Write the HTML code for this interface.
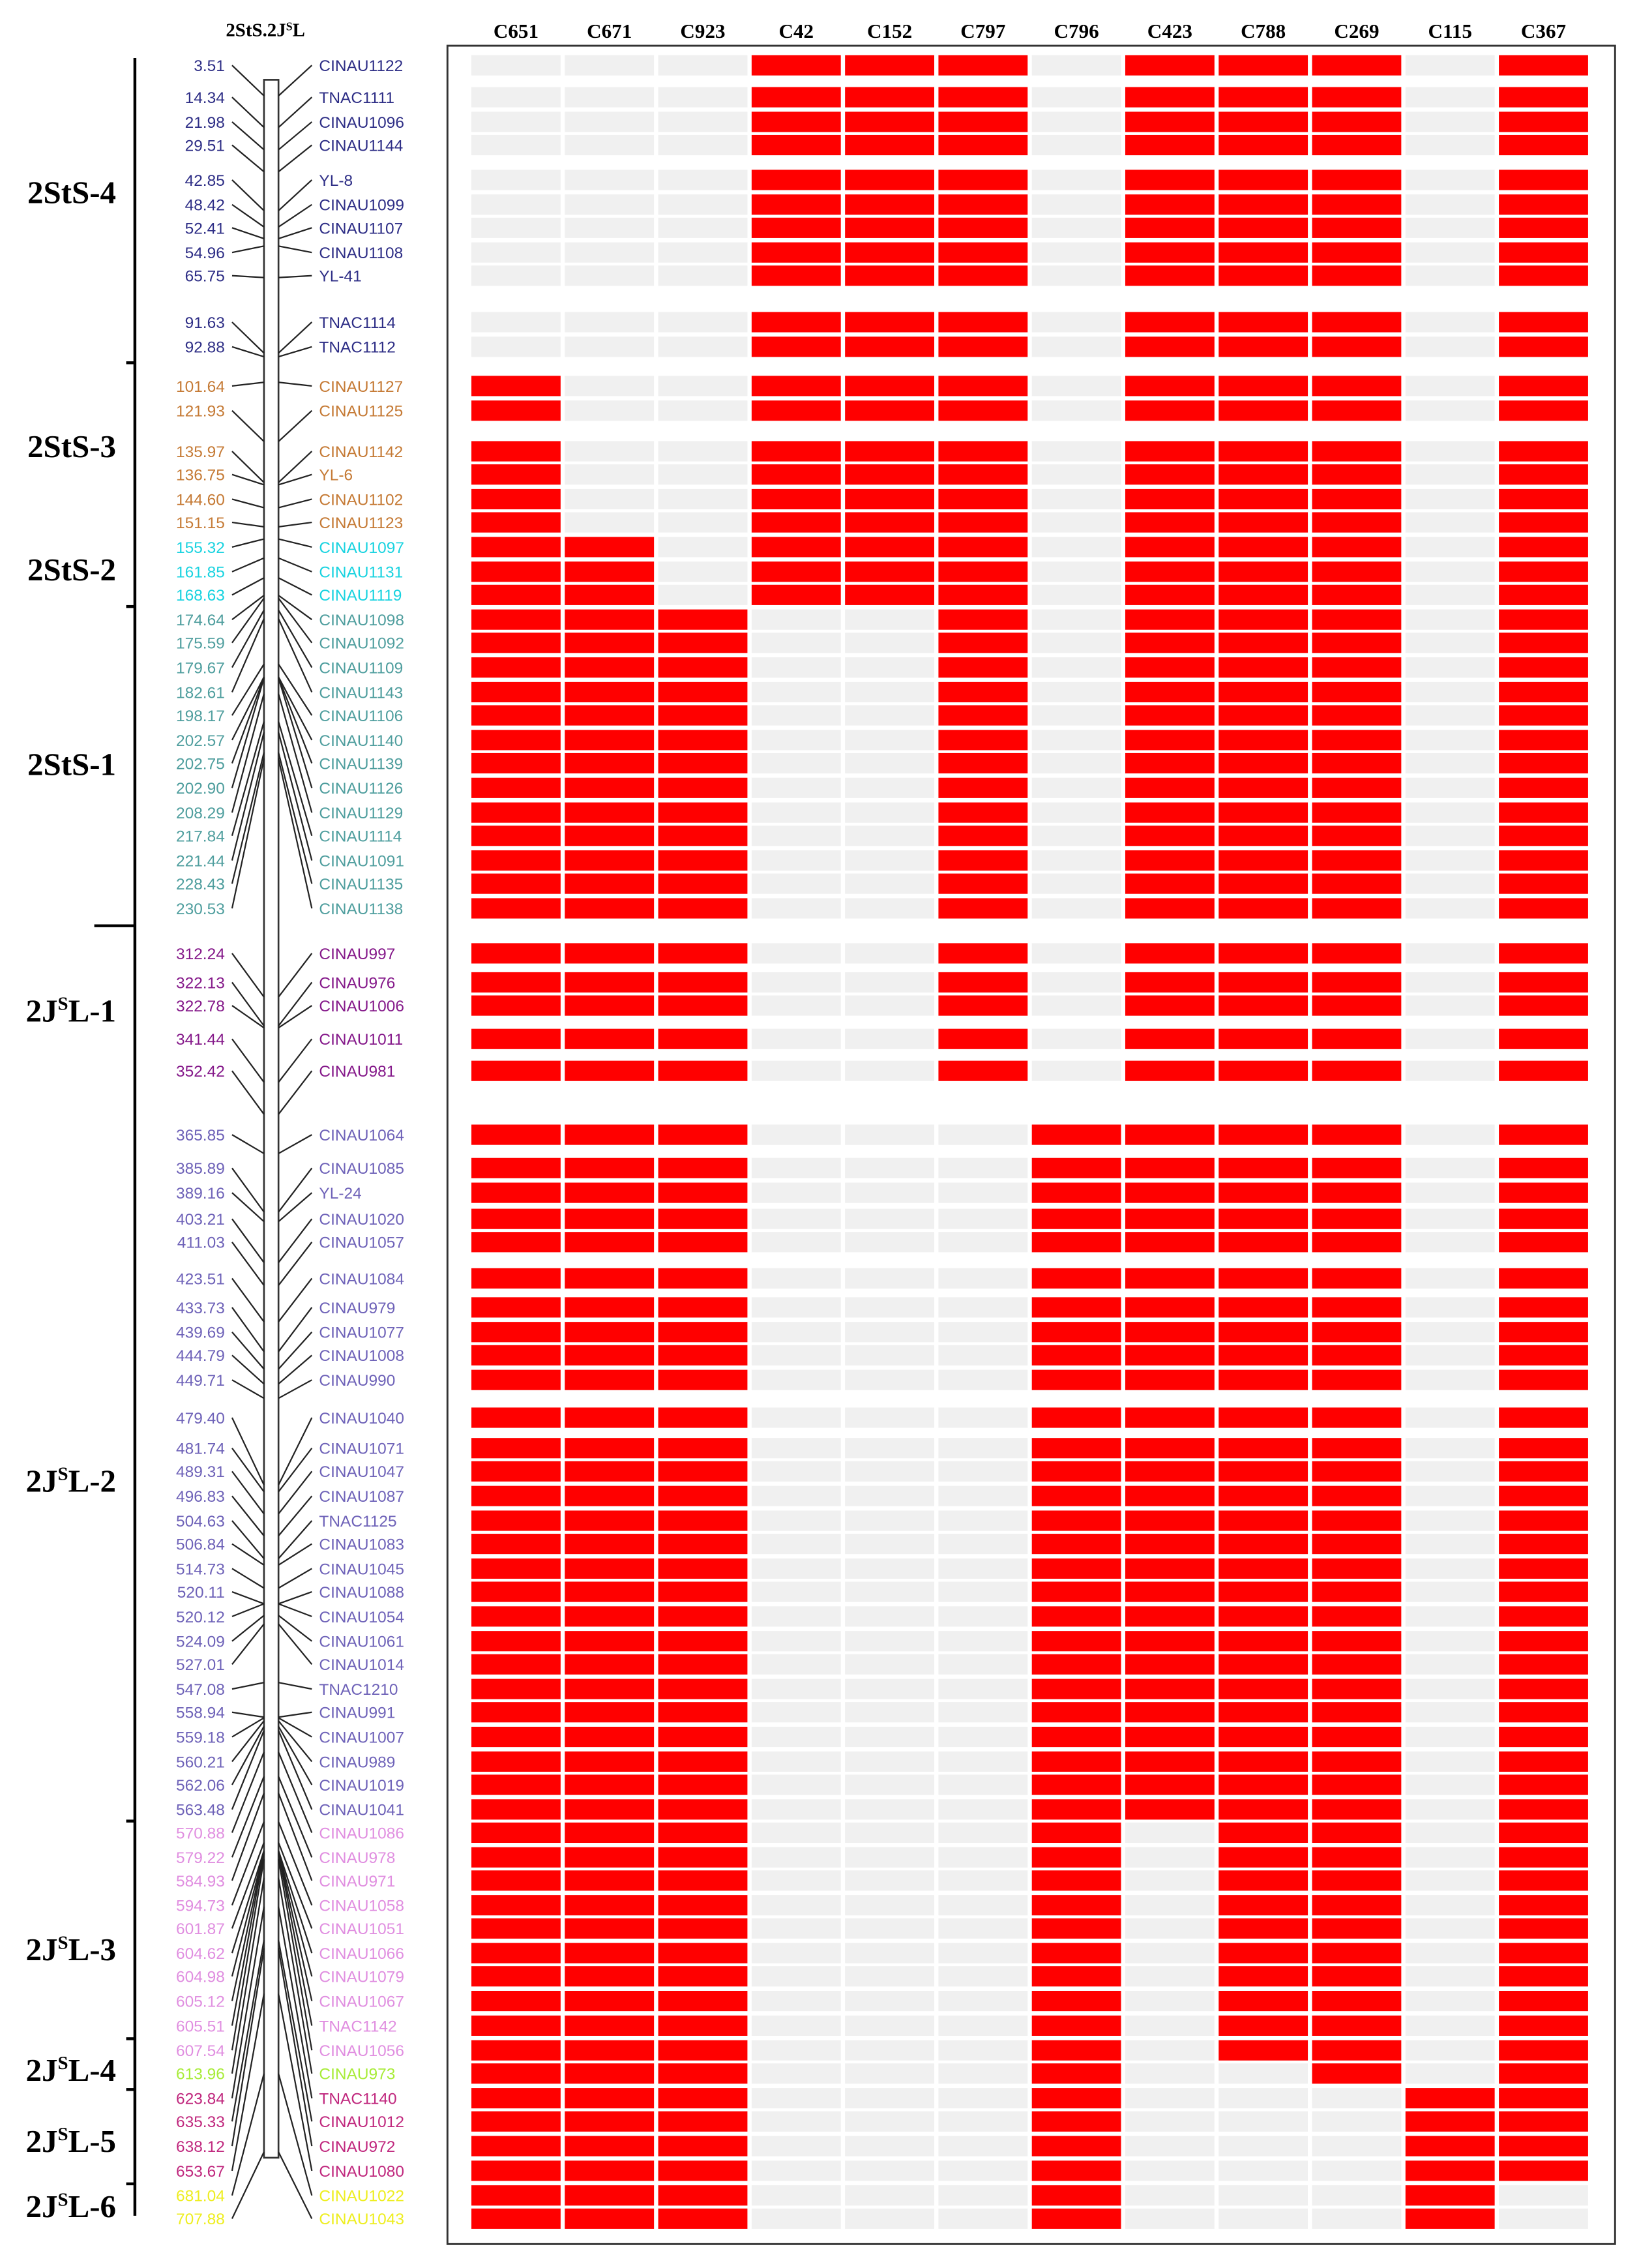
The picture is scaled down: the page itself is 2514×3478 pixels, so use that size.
<!DOCTYPE html>
<html><head><meta charset="utf-8"><style>
html,body{margin:0;padding:0;background:#fff;}
svg{display:block;}
</style></head><body>
<svg id="chart" width="2514" height="3478" viewBox="0 0 1130 1563" preserveAspectRatio="none" xmlns="http://www.w3.org/2000/svg">
<rect x="0" y="0" width="1130" height="1563" fill="#fff"/>
<text x="183" y="25" text-anchor="middle" font-family="Liberation Serif, serif" font-weight="bold" font-size="13">2StS.2J<tspan font-size="8" dy="-4">S</tspan><tspan dy="4">L</tspan></text>
<rect x="308.5" y="31.5" width="805" height="1515" fill="none" stroke="#333" stroke-width="1.3"/>
<g id="cols"></g><g id="cells"></g><g id="left"></g><g id="segs"></g>
</svg>
<script>
const columns=["C651","C671","C923","C42","C152","C797","C796","C423","C788","C269","C115","C367"];
const positions=[3.51,14.34,21.98,29.51,42.85,48.42,52.41,54.96,65.75,91.63,92.88,101.64,121.93,135.97,136.75,144.60,151.15,155.32,161.85,168.63,174.64,175.59,179.67,182.61,198.17,202.57,202.75,202.90,208.29,217.84,221.44,228.43,230.53,312.24,322.13,322.78,341.44,352.42,365.85,385.89,389.16,403.21,411.03,423.51,433.73,439.69,444.79,449.71,479.40,481.74,489.31,496.83,504.63,506.84,514.73,520.11,520.12,524.09,527.01,547.08,558.94,559.18,560.21,562.06,563.48,570.88,579.22,584.93,594.73,601.87,604.62,604.98,605.12,605.51,607.54,613.96,623.84,635.33,638.12,653.67,681.04,707.88];
const markers=["CINAU1122","TNAC1111","CINAU1096","CINAU1144","YL-8","CINAU1099","CINAU1107","CINAU1108","YL-41","TNAC1114","TNAC1112","CINAU1127","CINAU1125","CINAU1142","YL-6","CINAU1102","CINAU1123","CINAU1097","CINAU1131","CINAU1119","CINAU1098","CINAU1092","CINAU1109","CINAU1143","CINAU1106","CINAU1140","CINAU1139","CINAU1126","CINAU1129","CINAU1114","CINAU1091","CINAU1135","CINAU1138","CINAU997","CINAU976","CINAU1006","CINAU1011","CINAU981","CINAU1064","CINAU1085","YL-24","CINAU1020","CINAU1057","CINAU1084","CINAU979","CINAU1077","CINAU1008","CINAU990","CINAU1040","CINAU1071","CINAU1047","CINAU1087","TNAC1125","CINAU1083","CINAU1045","CINAU1088","CINAU1054","CINAU1061","CINAU1014","TNAC1210","CINAU991","CINAU1007","CINAU989","CINAU1019","CINAU1041","CINAU1086","CINAU978","CINAU971","CINAU1058","CINAU1051","CINAU1066","CINAU1079","CINAU1067","TNAC1142","CINAU1056","CINAU973","TNAC1140","CINAU1012","CINAU972","CINAU1080","CINAU1022","CINAU1043"];
const rowY=[45,67,84,100,124,141,157,174,190,222,239,266,283,311,327,344,360,377,394,410,427,443,460,477,493,510,526,543,560,576,593,609,626,657,677,693,716,738,782,805,822,840,856,881,901,918,934,951,977,998,1014,1031,1048,1064,1081,1097,1114,1131,1147,1164,1180,1197,1214,1230,1247,1263,1280,1296,1313,1329,1346,1362,1379,1396,1413,1429,1446,1462,1479,1496,1513,1529];
const groupSizes=[11,6,3,13,5,27,10,1,4,2];
const groupColors=["#2e2e86","#c57a35","#19d3e0","#4f9e9e","#85198a","#6e62b8","#e08ee0","#a8ec38","#c0287e","#eeee20"];
const patterns=[];
const groupPatterns=["000111011101","100111011101","110111011101","111001011101","111001011101","111000111101","111000101101","111000100101","111000100011","111000100010"];
const segments=[["2StS-4",133,""],["2StS-3",308,""],["2StS-2",393,""],["2StS-1",527,""],["2J","697","-1"],["2J","1021","-2"],["2J","1344","-3"],["2J","1427","-4"],["2J","1476","-5"],["2J","1521","-6"]];
const segTicks=[250,418,1255,1405,1440,1505];

const NS="http://www.w3.org/2000/svg";
function mk(tag,attrs,parent){const e=document.createElementNS(NS,tag);for(const k in attrs)e.setAttribute(k,attrs[k]);parent.appendChild(e);return e;}
const colorOf=[];groupSizes.forEach((n,g)=>{for(let i=0;i<n;i++){colorOf.push(groupColors[g]);patterns.push(groupPatterns[g]);}});

const x0=325,pitch=64.4,cw=61.5,ch=14;
const colG=document.getElementById('cols'),cellG=document.getElementById('cells');
columns.forEach((c,j)=>{
  const t=mk('text',{x:x0+j*pitch+cw/2,y:26,'text-anchor':'middle','font-family':'Liberation Serif, serif','font-weight':'bold','font-size':'14'},colG);
  t.textContent=c;
  
  
});
rowY.forEach((y,i)=>{
  for(let j=0;j<12;j++){
    const on=patterns[i][j]==='1';
    const r=mk('rect',{x:x0+j*pitch,y:y-ch/2,width:cw,height:ch,fill:on?'#ff0000':'#f0f0f0'},cellG);
    
    
  }
});
const L=document.getElementById('left');
const barTop=55,barBot=1487,maxCM=707.88;
function mapY(cm){return barTop+4+cm/maxCM*(barBot-barTop-8);}
const bar=mk('rect',{x:182,y:barTop,width:10,height:barBot-barTop,fill:'#fff',stroke:'#333','stroke-width':1.2},L);


rowY.forEach((y,i)=>{
  const my=mapY(positions[i]);
  const l1=mk('line',{x1:160,y1:y,x2:182,y2:my,stroke:'#222','stroke-width':1},L);
  
  
  const l2=mk('line',{x1:192,y1:my,x2:215,y2:y,stroke:'#222','stroke-width':1},L);
  
  
  const tn=mk('text',{x:155,y:y+4,'text-anchor':'end','font-family':'Liberation Sans, sans-serif','font-size':'11',fill:colorOf[i]},L);
  tn.textContent=positions[i].toFixed(2);
  
  
  const tm=mk('text',{x:220,y:y+4,'font-family':'Liberation Sans, sans-serif','font-size':'11',fill:colorOf[i]},L);
  tm.textContent=markers[i];
  
  
});
const S=document.getElementById('segs');
const ax=mk('line',{x1:93,y1:40,x2:93,y2:1527,stroke:'#000','stroke-width':2},S);


segTicks.forEach(y=>{
  const t=mk('line',{x1:87,y1:y,x2:93,y2:y,stroke:'#000','stroke-width':2},S);
  
  
});
const lt=mk('line',{x1:65,y1:638,x2:93,y2:638,stroke:'#000','stroke-width':2},S);


segments.forEach(s=>{
  const t=mk('text',{x:80,y:+s[1]+7,'text-anchor':'end','font-family':'Liberation Serif, serif','font-weight':'bold','font-size':'22'},S);
  if(s[2]===''){t.textContent=s[0];}
  else{t.textContent='2J';const a=mk('tspan',{'font-size':'13',dy:'-8'},t);a.textContent='S';const b=mk('tspan',{dy:'8'},t);b.textContent='L'+s[2];}
  
  
});
</script>
</body></html>
